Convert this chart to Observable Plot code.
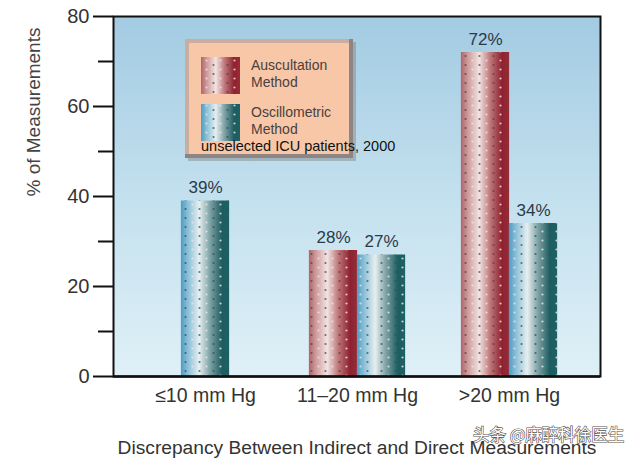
<!DOCTYPE html>
<html>
<head>
<meta charset="utf-8">
<script src="https://cdn.jsdelivr.net/npm/d3@7"></script>
<script src="https://cdn.jsdelivr.net/npm/@observablehq/plot@0.6"></script>
<style>
  body { margin: 0; background: #fff; }
  #chart { position: relative; width: 640px; height: 462px; }
  svg { font-family: "Liberation Sans", Arial, sans-serif; }
</style>
</head>
<body>
<div id="chart"></div>
<script>
const categories = ["≤10 mm Hg", "11–20 mm Hg", ">20 mm Hg"];
const methods = ["Auscultation Method", "Oscillometric Method"];
const auscultation = [null, 28, 72];
const oscillometric = [39, 27, 34];
const yMajorTicks = [0, 20, 40, 60, 80];
const yMinorTicks = [10, 30, 50, 70];
const yLabel = "% of Measurements";
const xLabel = "Discrepancy Between Indirect and Direct Measurements";
const note = "unselected ICU patients, 2000";
const watermark = "头条 @麻醉科徐医生";

const rows = [];
categories.forEach((c, i) => {
  const hasA = auscultation[i] != null;
  if (hasA) rows.push({category: c, method: methods[0], value: auscultation[i], slot: "left"});
  if (oscillometric[i] != null) rows.push({category: c, method: methods[1], value: oscillometric[i], slot: hasA ? "right" : "center"});
});

const W = 640, H = 462, mL = 113, mR = 40, mT = 16, mB = 86;
const pad = 0.2;
const step = (W - mL - mR) / (categories.length + pad);
const bw = step * (1 - pad);
const barW = 48;
const outer = (bw - 2 * barW) / 2;
const off = barW / 2;

const fills = {[methods[0]]: "url(#gradA)", [methods[1]]: "url(#gradO)"};
const slotInset = {
  left: {insetLeft: outer, insetRight: outer + barW, dx: -off},
  right: {insetLeft: outer + barW, insetRight: outer, dx: off},
  center: {insetLeft: outer + barW / 2, insetRight: outer + barW / 2, dx: 0}
};

const barMarks = [];
for (const slot of ["left", "right", "center"]) {
  const d = rows.filter(r => r.slot === slot);
  const s = slotInset[slot];
  for (const m of methods) {
    const dm = d.filter(r => r.method === m);
    if (!dm.length) continue;
    barMarks.push(Plot.barY(dm, {x: "category", y: "value", fill: fills[m], insetLeft: s.insetLeft, insetRight: s.insetRight}));
    barMarks.push(Plot.barY(dm, {x: "category", y: "value", fill: "url(#dots)", insetLeft: s.insetLeft, insetRight: s.insetRight}));
  }
  barMarks.push(Plot.text(d, {x: "category", y: "value", text: r => r.value + "%", dx: s.dx, dy: -8, lineAnchor: "bottom", fontSize: 17, fill: "#2b3a48"}));
}

const plot = Plot.plot({
  width: W, height: H,
  marginLeft: mL, marginRight: mR, marginTop: mT, marginBottom: mB,
  style: {background: "#fff", fontFamily: "Liberation Sans, Arial, sans-serif"},
  x: {domain: categories, padding: pad, axis: null},
  y: {domain: [0, 80], axis: null},
  marks: [
    Plot.frame({fill: "url(#bg)"}),
    ...barMarks,
    Plot.frame({stroke: "#111", strokeWidth: 2}),
    Plot.ruleY([0], {stroke: "#111", strokeWidth: 2.5}),
    Plot.axisY(yMajorTicks, {tickSize: 20, tickPadding: 4, fontSize: 20, stroke: "#111", strokeWidth: 2, fill: "#333", label: null}),
    Plot.axisY(yMinorTicks, {tickSize: 15, text: null, stroke: "#111", strokeWidth: 2, label: null}),
    Plot.axisX({tickSize: 0, tickPadding: 12, fontSize: 19.5, fill: "#333", label: null}),
    Plot.text([yLabel], {frameAnchor: "left", dx: -80, rotate: -90, fontSize: 19, fill: "#444"}),
    Plot.text([xLabel], {frameAnchor: "bottom", dy: 77, lineAnchor: "bottom", fontSize: 19.2, fill: "#333"})
  ]
});

document.getElementById("chart").appendChild(plot);

const svg = d3.select(plot);
const defs = svg.insert("defs", ":first-child");
const bg = defs.append("linearGradient").attr("id", "bg").attr("x1", 0).attr("y1", 0).attr("x2", 0).attr("y2", 1);
bg.append("stop").attr("offset", "0%").attr("stop-color", "#a3cbe2");
bg.append("stop").attr("offset", "55%").attr("stop-color", "#c6e2ef");
bg.append("stop").attr("offset", "100%").attr("stop-color", "#dff0f7");

const gA = defs.append("linearGradient").attr("id", "gradA").attr("x1", 0).attr("y1", 0).attr("x2", 1).attr("y2", 0);
[["0%", "#b06468"], ["15%", "#cf9c9c"], ["38%", "#f1e4e2"], ["60%", "#c07a7c"], ["85%", "#8e2230"], ["100%", "#9c2a36"]]
  .forEach(([o, c]) => gA.append("stop").attr("offset", o).attr("stop-color", c));
const gO = defs.append("linearGradient").attr("id", "gradO").attr("x1", 0).attr("y1", 0).attr("x2", 1).attr("y2", 0);
[["0%", "#4f9cc2"], ["15%", "#8cc0d8"], ["38%", "#e6eff0"], ["60%", "#7fa3a6"], ["85%", "#1d5d61"], ["100%", "#1c6265"]]
  .forEach(([o, c]) => gO.append("stop").attr("offset", o).attr("stop-color", c));

const pat = defs.append("pattern").attr("id", "dots").attr("patternUnits", "userSpaceOnUse")
  .attr("width", 14).attr("height", 9);
pat.append("circle").attr("cx", 3.5).attr("cy", 2).attr("r", 1.1).attr("fill", "#3a4650").attr("fill-opacity", 0.75);
pat.append("circle").attr("cx", 10.5).attr("cy", 6.5).attr("r", 1.1).attr("fill", "#f4dede").attr("fill-opacity", 0.85);

// Legend box
const lg = svg.append("g").attr("text-anchor", "start");
const lx = 185, ly = 39, lw = 168, lh = 119;
lg.append("rect").attr("x", lx + 3).attr("y", ly + 3).attr("width", lw).attr("height", lh).attr("fill", "#6f6a68").attr("opacity", 0.35);
lg.append("rect").attr("x", lx).attr("y", ly).attr("width", lw).attr("height", lh).attr("fill", "#8e8582");
lg.append("rect").attr("x", lx).attr("y", ly).attr("width", lw - 4).attr("height", lh - 4).attr("fill", "#c9aea0");
lg.append("rect").attr("x", lx + 4).attr("y", ly + 4).attr("width", lw - 8).attr("height", lh - 8).attr("fill", "#f8c7a7");
const sw = [{m: methods[0], y: 57, f: "url(#gradA)"}, {m: methods[1], y: 104, f: "url(#gradO)"}];
sw.forEach(s => {
  lg.append("rect").attr("x", 201).attr("y", s.y).attr("width", 39).attr("height", 37).attr("fill", s.f);
  lg.append("rect").attr("x", 201).attr("y", s.y).attr("width", 39).attr("height", 37).attr("fill", "url(#dots)");
  const parts = s.m.split(" ");
  lg.append("text").attr("x", 251).attr("y", s.y + 13).attr("font-size", 14).attr("fill", "#4a4040").text(parts[0]);
  lg.append("text").attr("x", 251).attr("y", s.y + 30).attr("font-size", 14).attr("fill", "#4a4040").text(parts[1]);
});
lg.append("text").attr("x", 201).attr("y", 151).attr("font-size", 14.5).attr("fill", "#111").text(note);

// Watermark
svg.append("text").attr("x", 473).attr("y", 441).attr("font-size", 16.5).attr("text-anchor", "start")
  .attr("font-family", "Noto Sans CJK SC, sans-serif")
  .attr("fill", "#fff").attr("stroke", "#555").attr("stroke-width", 1.2).attr("paint-order", "stroke")
  .text(watermark);
</script>
</body>
</html>
